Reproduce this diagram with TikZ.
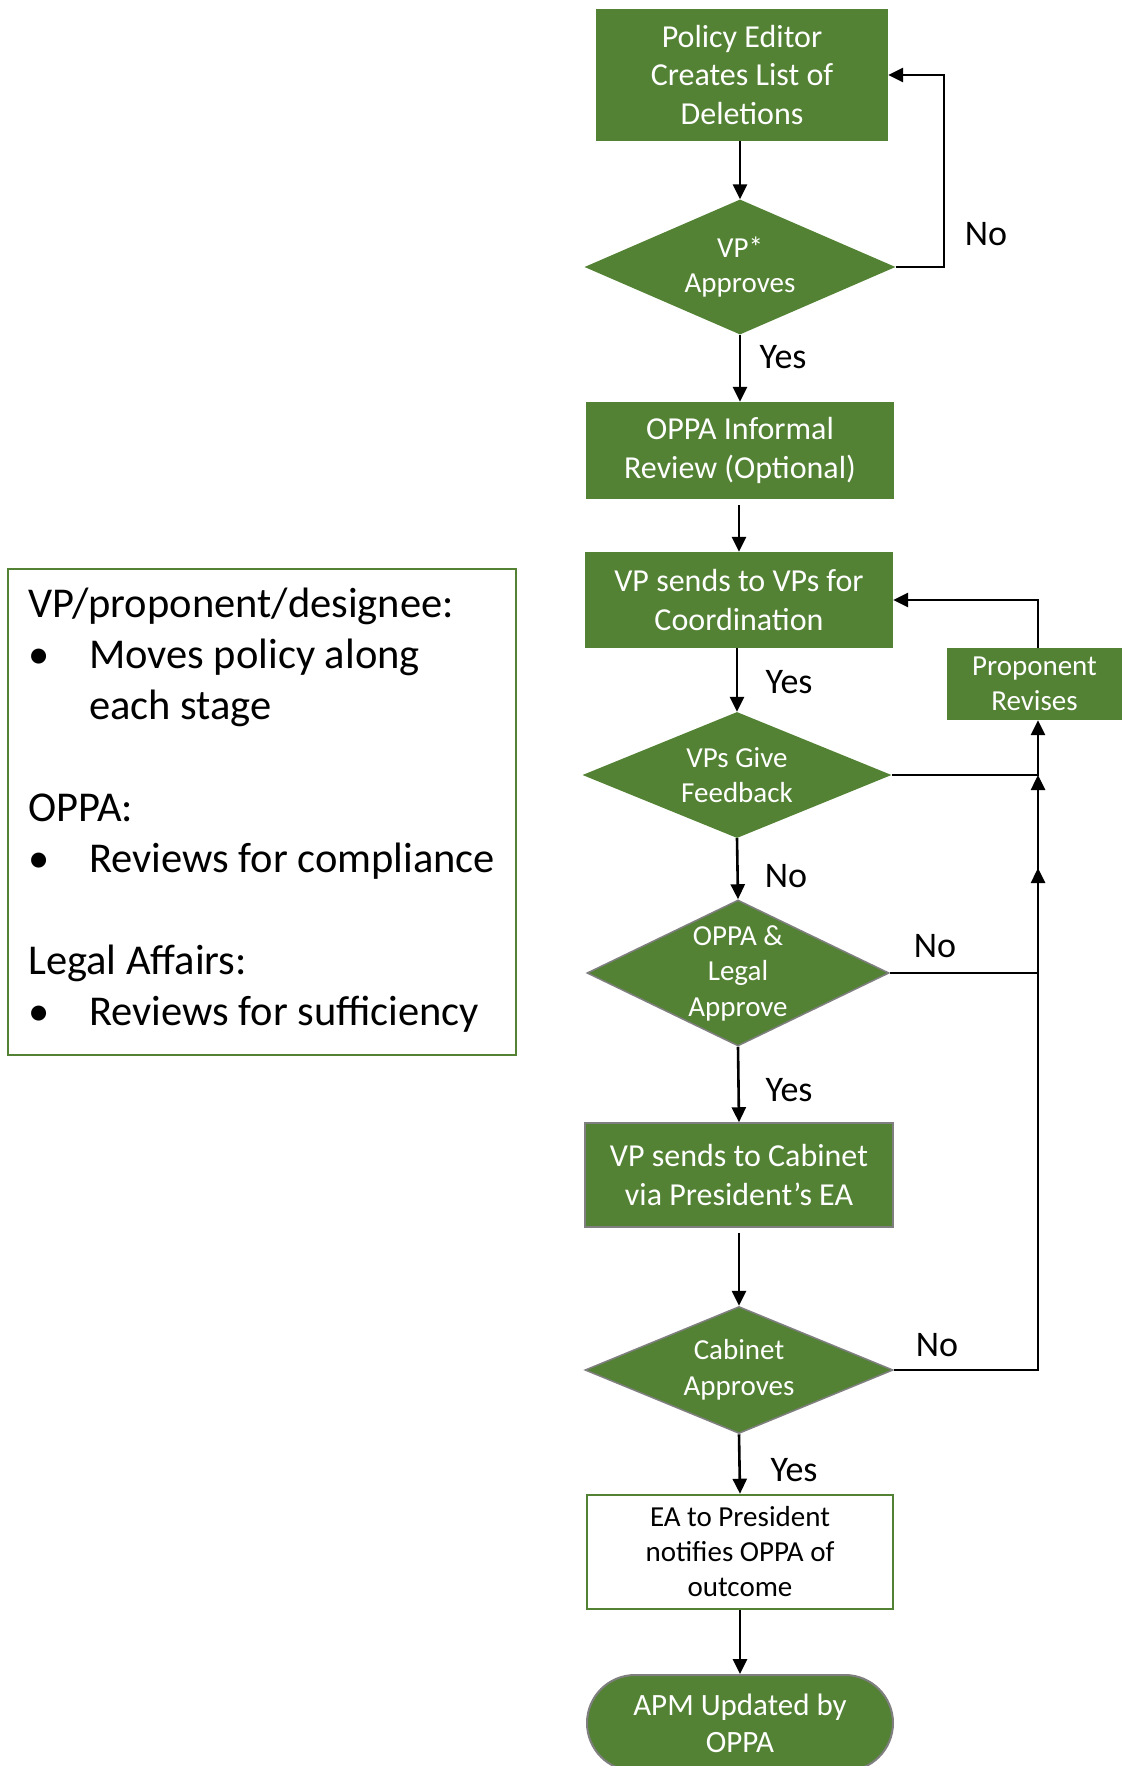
\documentclass[tikz,border=0pt]{standalone}
\usepackage{fontspec}
\setmainfont{Carlito}
\usetikzlibrary{shapes.geometric,arrows.meta}
\definecolor{pgreen}{HTML}{548235}
\definecolor{pgray}{HTML}{7F7F7F}
\tikzset{
  procbox/.style={rectangle,fill=pgreen,draw=none,text=white,align=center,inner sep=0pt,
    font=\fontsize{32}{38.5}\selectfont},
  graybox/.style={procbox,draw=pgray,line width=1.5pt},
  decision/.style={diamond,fill=pgreen,draw=none,inner sep=0pt,aspect=2.3},
  graydecision/.style={decision,draw=pgray,line width=1.5pt},
  dtext/.style={text=white,align=center,font=\fontsize{29}{35.5}\selectfont,inner sep=0pt},
  conn/.style={line width=2.6pt,-{Triangle[length=15pt,width=14pt]}},
  lbl/.style={font=\fontsize{36}{43}\selectfont,inner sep=0pt}
}
\begin{document}
\begin{tikzpicture}[x=1pt,y=-1pt]
\useasboundingbox (0,0) rectangle (1122,1766);
% process nodes
\node[procbox,minimum width=292pt,minimum height=132pt] (policy) at (742,75) {Policy Editor\\Creates List of\\Deletions};
\node[decision,minimum width=311pt,minimum height=135pt,label={[dtext]center:{VP*\\Approves}}] (vpapp) at (740,267) {};
\node[procbox,minimum width=308pt,minimum height=97pt] (informal) at (740,450.5) {OPPA Informal\\Review (Optional)};
\node[procbox,minimum width=308pt,minimum height=96pt] (coord) at (739,600) {VP sends to VPs for\\Coordination};
\node[procbox,minimum width=175pt,minimum height=72pt,font=\fontsize{29}{35}\selectfont] (revise) at (1034.5,684) {Proponent\\Revises};
\node[decision,minimum width=309pt,minimum height=126pt,label={[dtext]center:{VPs Give\\Feedback}}] (feedback) at (737,775) {};
\node[graydecision,minimum width=302pt,minimum height=146pt,label={[dtext]center:{OPPA \&\\Legal\\Approve}}] (legal) at (738,973) {};
\node[graybox,minimum width=308pt,minimum height=104pt] (cabsend) at (739,1175) {VP sends to Cabinet\\via President’s EA};
\node[graydecision,minimum width=308pt,minimum height=127pt,label={[dtext]center:{Cabinet\\Approves}}] (cabapp) at (739,1370) {};
\node[rectangle,draw=pgreen,line width=2.5pt,fill=white,minimum width=306pt,minimum height=114pt,align=center,inner sep=0pt,font=\fontsize{29}{35}\selectfont] (ea) at (740,1552) {EA to President\\notifies OPPA of\\outcome};
\node[procbox,draw=pgray,line width=2pt,rounded corners=48pt,minimum width=306pt,minimum height=96pt,font=\fontsize{31}{37}\selectfont] (apm) at (740,1723) {APM Updated by\\OPPA};
% legend
\node[draw=pgreen,line width=1.5pt,minimum width=508pt,minimum height=486pt,inner sep=0pt] (legend) at (262,812) {};
\node[anchor=west,align=left,inner sep=0pt,font=\fontsize{42.5}{51}\selectfont] (legendtext) at (28,810) {%
VP/proponent/designee:\\
\makebox[61pt][l]{•}Moves policy along\\
\hspace*{61pt}each stage\\
\mbox{}\\
OPPA:\\
\makebox[61pt][l]{•}Reviews for compliance\\
\mbox{}\\
Legal Affairs:\\
\makebox[61pt][l]{•}Reviews for sufficiency};
% helper coordinates
\coordinate (noloop) at (944,0);
\coordinate (rx) at (1038,0);
\coordinate (tipA) at (1038,868);
% connectors
\draw[conn] (vpapp.north |- policy.south) -- (vpapp.north);
\draw[conn] (vpapp.east) -- (noloop |- vpapp.east) |- (policy.east |- 0,75);
\draw[conn] (vpapp.south) -- (informal.north);
\draw[conn,shorten <=6pt] (coord.north |- informal.south) -- (coord.north);
\draw[conn] (revise.north -| rx) |- (coord.east);
\draw[conn] (feedback.north |- coord.south) -- (feedback.north);
\draw[conn] (feedback.east) -| (revise.south -| rx);
\draw[conn] (feedback.south) -- (legal.north);
\draw[conn] (legal.east) -| (feedback.east -| rx);
\draw[conn] (legal.south) -- (cabsend.north);
\draw[conn,shorten <=5pt] (cabapp.north |- cabsend.south) -- (cabapp.north);
\draw[conn] (cabapp.east) -| (tipA);
\draw[conn] (cabapp.south) -- (ea.north);
\draw[conn] (ea.south) -- (apm.north);
% labels
\node[lbl] (no1) at (986,234) {No};
\node[lbl] (yes1) at (783,357) {Yes};
\node[lbl] (yes2) at (789,682) {Yes};
\node[lbl] (no2) at (786,876) {No};
\node[lbl] (no3) at (935,946) {No};
\node[lbl] (yes3) at (789,1090) {Yes};
\node[lbl] (no4) at (937,1345) {No};
\node[lbl] (yes4) at (794,1470) {Yes};
\end{tikzpicture}
\end{document}
